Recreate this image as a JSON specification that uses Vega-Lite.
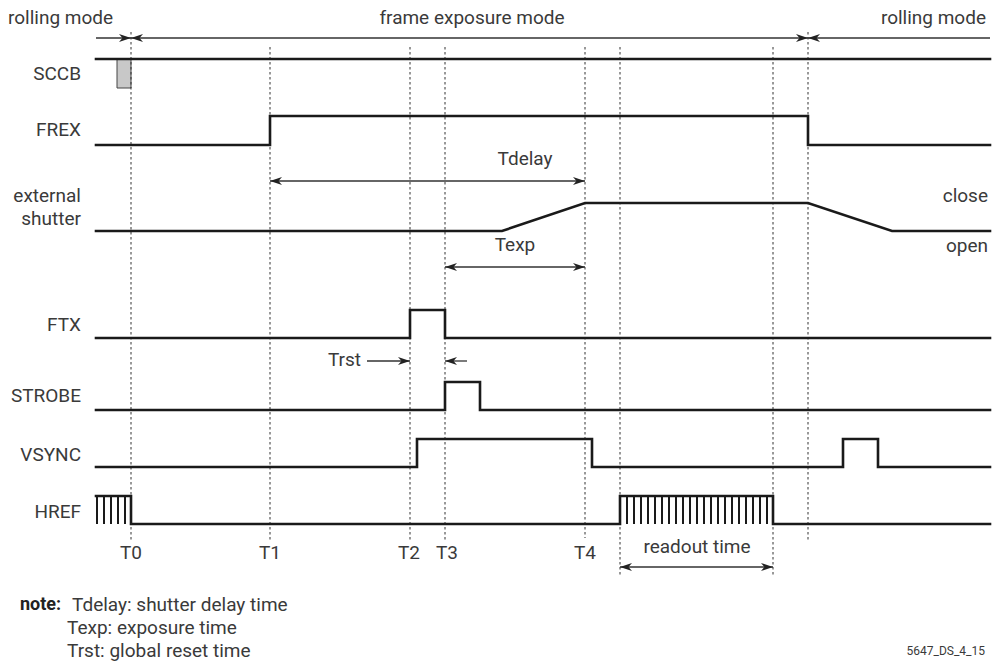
{
  "$schema": "https://vega.github.io/schema/vega-lite/v6.json",
  "width": 993,
  "height": 668,
  "autosize": "none",
  "padding": 0,
  "background": "white",
  "config": {"view": {"stroke": null}, "text": {"font": "Roboto", "fontSize": 19, "color": "#3a3a3a", "baseline": "middle"}},
  "datasets": {
    "wave": [
      {"sig": "SCCB", "i": 0, "x": 96, "y": 59}, {"sig": "SCCB", "i": 1, "x": 990, "y": 59},
      {"sig": "FREX", "i": 0, "x": 96, "y": 145}, {"sig": "FREX", "i": 1, "x": 270, "y": 145}, {"sig": "FREX", "i": 2, "x": 270, "y": 116}, {"sig": "FREX", "i": 3, "x": 808, "y": 116}, {"sig": "FREX", "i": 4, "x": 808, "y": 145}, {"sig": "FREX", "i": 5, "x": 990, "y": 145},
      {"sig": "SHUT", "i": 0, "x": 96, "y": 231}, {"sig": "SHUT", "i": 1, "x": 502, "y": 231}, {"sig": "SHUT", "i": 2, "x": 585, "y": 203}, {"sig": "SHUT", "i": 3, "x": 808, "y": 203}, {"sig": "SHUT", "i": 4, "x": 892, "y": 231}, {"sig": "SHUT", "i": 5, "x": 990, "y": 231},
      {"sig": "FTX", "i": 0, "x": 96, "y": 338}, {"sig": "FTX", "i": 1, "x": 410, "y": 338}, {"sig": "FTX", "i": 2, "x": 410, "y": 310}, {"sig": "FTX", "i": 3, "x": 445, "y": 310}, {"sig": "FTX", "i": 4, "x": 445, "y": 338}, {"sig": "FTX", "i": 5, "x": 990, "y": 338},
      {"sig": "STROBE", "i": 0, "x": 96, "y": 410}, {"sig": "STROBE", "i": 1, "x": 445, "y": 410}, {"sig": "STROBE", "i": 2, "x": 445, "y": 382}, {"sig": "STROBE", "i": 3, "x": 480, "y": 382}, {"sig": "STROBE", "i": 4, "x": 480, "y": 410}, {"sig": "STROBE", "i": 5, "x": 990, "y": 410},
      {"sig": "VSYNC", "i": 0, "x": 96, "y": 467}, {"sig": "VSYNC", "i": 1, "x": 417, "y": 467}, {"sig": "VSYNC", "i": 2, "x": 417, "y": 439}, {"sig": "VSYNC", "i": 3, "x": 592, "y": 439}, {"sig": "VSYNC", "i": 4, "x": 592, "y": 467}, {"sig": "VSYNC", "i": 5, "x": 843, "y": 467}, {"sig": "VSYNC", "i": 6, "x": 843, "y": 439}, {"sig": "VSYNC", "i": 7, "x": 878, "y": 439}, {"sig": "VSYNC", "i": 8, "x": 878, "y": 467}, {"sig": "VSYNC", "i": 9, "x": 990, "y": 467},
      {"sig": "HREF", "i": 0, "x": 96, "y": 496}, {"sig": "HREF", "i": 1, "x": 131, "y": 496}, {"sig": "HREF", "i": 2, "x": 131, "y": 524}, {"sig": "HREF", "i": 3, "x": 620, "y": 524}, {"sig": "HREF", "i": 4, "x": 620, "y": 496}, {"sig": "HREF", "i": 5, "x": 773, "y": 496}, {"sig": "HREF", "i": 6, "x": 773, "y": 524}, {"sig": "HREF", "i": 7, "x": 990, "y": 524}
    ],
    "ticks": [
      {"x": 97, "y": 496, "y2": 524}, {"x": 104, "y": 496, "y2": 524}, {"x": 111, "y": 496, "y2": 524}, {"x": 118, "y": 496, "y2": 524}, {"x": 125, "y": 496, "y2": 524},
      {"x": 627, "y": 496, "y2": 524}, {"x": 634, "y": 496, "y2": 524}, {"x": 641, "y": 496, "y2": 524}, {"x": 648, "y": 496, "y2": 524}, {"x": 655, "y": 496, "y2": 524}, {"x": 662, "y": 496, "y2": 524}, {"x": 669, "y": 496, "y2": 524}, {"x": 676, "y": 496, "y2": 524}, {"x": 683, "y": 496, "y2": 524}, {"x": 690, "y": 496, "y2": 524}, {"x": 697, "y": 496, "y2": 524}, {"x": 704, "y": 496, "y2": 524}, {"x": 711, "y": 496, "y2": 524}, {"x": 718, "y": 496, "y2": 524}, {"x": 725, "y": 496, "y2": 524}, {"x": 732, "y": 496, "y2": 524}, {"x": 739, "y": 496, "y2": 524}, {"x": 746, "y": 496, "y2": 524}, {"x": 753, "y": 496, "y2": 524}, {"x": 760, "y": 496, "y2": 524}, {"x": 767, "y": 496, "y2": 524}
    ],
    "dotted": [
      {"x": 131, "y": 32, "y2": 540}, {"x": 270, "y": 47, "y2": 540}, {"x": 410, "y": 47, "y2": 540}, {"x": 445, "y": 47, "y2": 540},
      {"x": 585, "y": 47, "y2": 538}, {"x": 620, "y": 47, "y2": 576}, {"x": 773, "y": 47, "y2": 576}, {"x": 808, "y": 32, "y2": 540}
    ],
    "spans": [
      {"x": 96, "x2": 990, "y": 38}, {"x": 270, "x2": 585, "y": 181}, {"x": 445, "x2": 585, "y": 267},
      {"x": 367, "x2": 410, "y": 361}, {"x": 445, "x2": 467, "y": 361}, {"x": 620, "x2": 773, "y": 567}
    ],
    "headsR": [{"x": 131, "y": 38}, {"x": 808, "y": 38}, {"x": 585, "y": 181}, {"x": 585, "y": 267}, {"x": 410, "y": 361}, {"x": 773, "y": 567}],
    "headsL": [{"x": 131, "y": 38}, {"x": 808, "y": 38}, {"x": 270, "y": 181}, {"x": 445, "y": 267}, {"x": 445, "y": 361}, {"x": 620, "y": 567}],
    "lbl_right": [
      {"x": 81, "y": 74, "t": "SCCB"}, {"x": 81, "y": 130, "t": "FREX"}, {"x": 81, "y": 196, "t": "external"}, {"x": 81, "y": 219, "t": "shutter"},
      {"x": 81, "y": 325, "t": "FTX"}, {"x": 81, "y": 396, "t": "STROBE"}, {"x": 81, "y": 455, "t": "VSYNC"}, {"x": 81, "y": 512, "t": "HREF"},
      {"x": 986, "y": 18, "t": "rolling mode"}, {"x": 988, "y": 196, "t": "close"}, {"x": 988, "y": 246, "t": "open"}, {"x": 361, "y": 360, "t": "Trst"}
    ],
    "lbl_left": [{"x": 8, "y": 18, "t": "rolling mode"}],
    "lbl_center": [
      {"x": 472, "y": 18, "t": "frame exposure mode"}, {"x": 525, "y": 159, "t": "Tdelay"}, {"x": 515, "y": 245, "t": "Texp"},
      {"x": 131, "y": 553, "t": "T0"}, {"x": 270, "y": 553, "t": "T1"}, {"x": 409, "y": 553, "t": "T2"}, {"x": 447, "y": 553, "t": "T3"}, {"x": 585, "y": 553, "t": "T4"},
      {"x": 697, "y": 547, "t": "readout time"}
    ],
    "notes": [{"x": 72, "y": 605, "t": "Tdelay: shutter delay time"}, {"x": 67, "y": 628, "t": "Texp: exposure time"}, {"x": 67, "y": 651, "t": "Trst: global reset time"}],
    "noteHead": [{"x": 20, "y": 605, "t": "note:"}],
    "code": [{"x": 985, "y": 651, "t": "5647_DS_4_15"}],
    "box": [{"x": 117, "x2": 131, "y": 59, "y2": 88}]
  },
  "layer": [
    {
      "data": {"name": "box"},
      "mark": {"type": "rect", "fill": "#c8c8c8", "stroke": "#444", "strokeWidth": 1},
      "encoding": {
        "x": {"field": "x", "type": "quantitative", "scale": {"domain": [0, 993], "nice": false, "zero": false}, "axis": null},
        "x2": {"field": "x2"},
        "y": {"field": "y", "type": "quantitative", "scale": {"domain": [668, 0], "nice": false, "zero": false}, "axis": null},
        "y2": {"field": "y2"}
      }
    },
    {
      "data": {"name": "dotted"},
      "mark": {"type": "rule", "color": "#333", "strokeWidth": 1, "strokeDash": [2.5, 2.5]},
      "encoding": {
        "x": {"field": "x", "type": "quantitative"},
        "y": {"field": "y", "type": "quantitative"},
        "y2": {"field": "y2"}
      }
    },
    {
      "data": {"name": "spans"},
      "mark": {"type": "rule", "color": "#333", "strokeWidth": 1.3},
      "encoding": {
        "x": {"field": "x", "type": "quantitative"},
        "x2": {"field": "x2"},
        "y": {"field": "y", "type": "quantitative"}
      }
    },
    {
      "data": {"name": "headsR"},
      "mark": {"type": "point", "shape": "M0,0L-2.4,-0.8L-1.7,0L-2.4,0.8Z", "filled": true, "color": "#222", "size": 100, "opacity": 1},
      "encoding": {
        "x": {"field": "x", "type": "quantitative"},
        "y": {"field": "y", "type": "quantitative"}
      }
    },
    {
      "data": {"name": "headsL"},
      "mark": {"type": "point", "shape": "M0,0L2.4,-0.8L1.7,0L2.4,0.8Z", "filled": true, "color": "#222", "size": 100, "opacity": 1},
      "encoding": {
        "x": {"field": "x", "type": "quantitative"},
        "y": {"field": "y", "type": "quantitative"}
      }
    },
    {
      "data": {"name": "wave"},
      "mark": {"type": "line", "color": "#1a1a1a", "strokeWidth": 2.6, "strokeJoin": "miter", "strokeCap": "square"},
      "encoding": {
        "x": {"field": "x", "type": "quantitative"},
        "y": {"field": "y", "type": "quantitative"},
        "detail": {"field": "sig"},
        "order": {"field": "i", "type": "quantitative"}
      }
    },
    {
      "data": {"name": "ticks"},
      "mark": {"type": "rule", "color": "#1a1a1a", "strokeWidth": 2},
      "encoding": {
        "x": {"field": "x", "type": "quantitative"},
        "y": {"field": "y", "type": "quantitative"},
        "y2": {"field": "y2"}
      }
    },
    {
      "data": {"name": "lbl_right"},
      "mark": {"type": "text", "align": "right"},
      "encoding": {"x": {"field": "x", "type": "quantitative"}, "y": {"field": "y", "type": "quantitative"}, "text": {"field": "t"}}
    },
    {
      "data": {"name": "lbl_left"},
      "mark": {"type": "text", "align": "left"},
      "encoding": {"x": {"field": "x", "type": "quantitative"}, "y": {"field": "y", "type": "quantitative"}, "text": {"field": "t"}}
    },
    {
      "data": {"name": "lbl_center"},
      "mark": {"type": "text", "align": "center"},
      "encoding": {"x": {"field": "x", "type": "quantitative"}, "y": {"field": "y", "type": "quantitative"}, "text": {"field": "t"}}
    },
    {
      "data": {"name": "notes"},
      "mark": {"type": "text", "align": "left", "fontSize": 19},
      "encoding": {"x": {"field": "x", "type": "quantitative"}, "y": {"field": "y", "type": "quantitative"}, "text": {"field": "t"}}
    },
    {
      "data": {"name": "noteHead"},
      "mark": {"type": "text", "align": "left", "fontSize": 18, "fontWeight": "bold", "color": "#222"},
      "encoding": {"x": {"field": "x", "type": "quantitative"}, "y": {"field": "y", "type": "quantitative"}, "text": {"field": "t"}}
    },
    {
      "data": {"name": "code"},
      "mark": {"type": "text", "align": "right", "fontSize": 12},
      "encoding": {"x": {"field": "x", "type": "quantitative"}, "y": {"field": "y", "type": "quantitative"}, "text": {"field": "t"}}
    }
  ]
}
